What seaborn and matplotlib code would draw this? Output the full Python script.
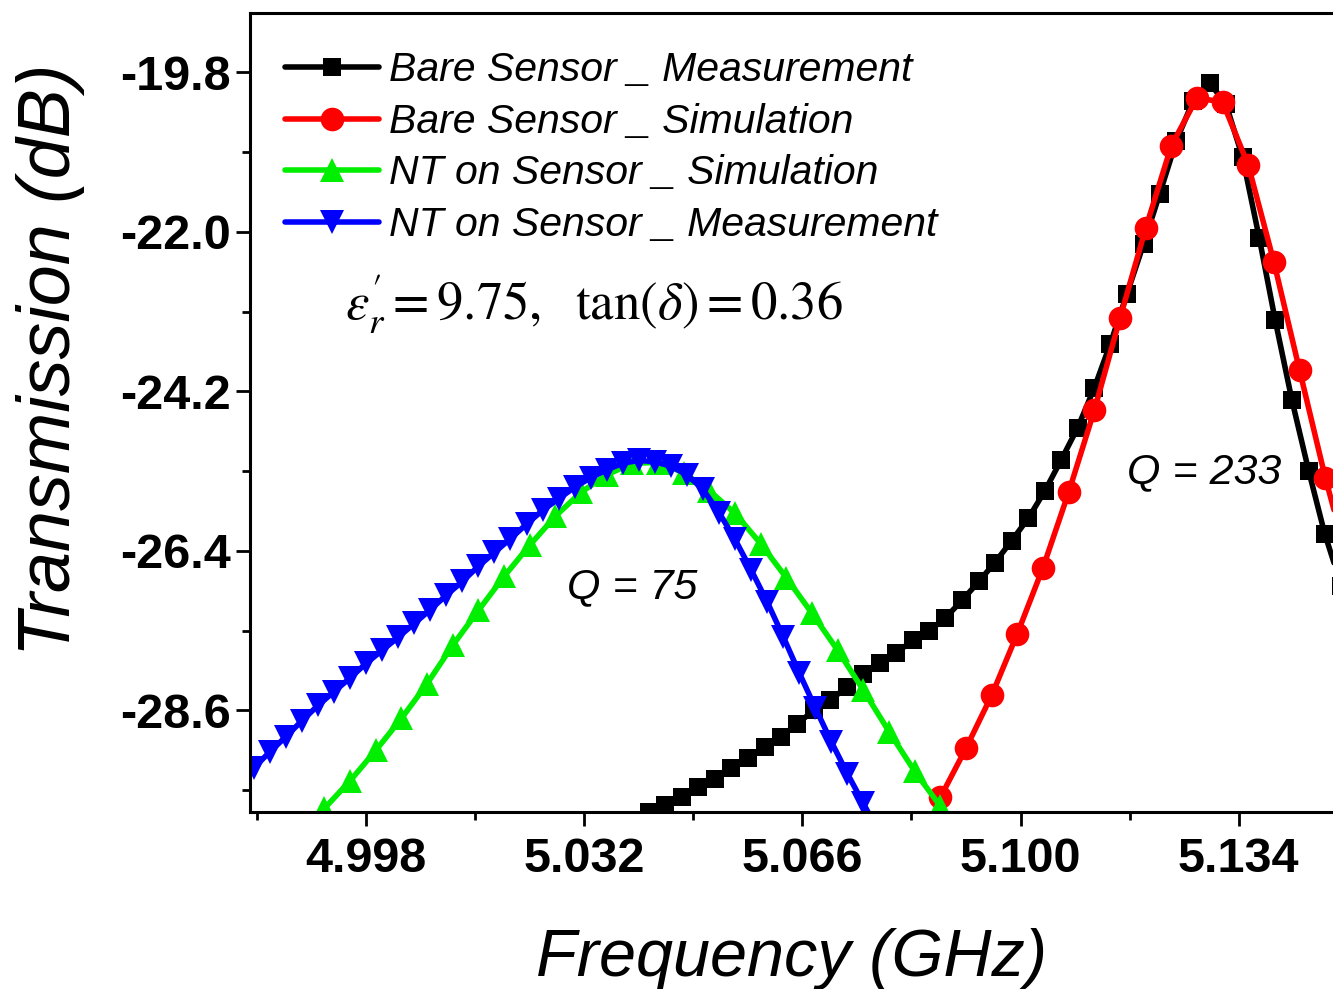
import matplotlib
matplotlib.use("Agg")
import matplotlib.pyplot as plt
import seaborn as sns

# ---------------- data ----------------
freq_bare_meas = [5.0395, 5.0421, 5.0446, 5.0472, 5.0498, 5.0524, 5.0549, 5.0575,
                  5.0601, 5.0626, 5.0652, 5.0678, 5.0703, 5.0729, 5.0755, 5.0781,
                  5.0806, 5.0832, 5.0858, 5.0883, 5.0909, 5.0935, 5.0960, 5.0986,
                  5.1012, 5.1038, 5.1063, 5.1089, 5.1115, 5.1140, 5.1166, 5.1192,
                  5.1217, 5.1243, 5.1269, 5.1295, 5.1320, 5.1346, 5.1372, 5.1397,
                  5.1423, 5.1449, 5.1474, 5.1500]
tx_bare_meas = [-30.26, -30.00, -29.91, -29.80, -29.66, -29.54, -29.39, -29.25,
                -29.11, -28.97, -28.78, -28.60, -28.46, -28.28, -28.09, -27.95,
                -27.81, -27.63, -27.50, -27.32, -27.08, -26.82, -26.56, -26.26,
                -25.95, -25.57, -25.15, -24.70, -24.15, -23.54, -22.85, -22.16,
                -21.47, -20.74, -20.19, -19.95, -20.23, -20.97, -22.08, -23.22,
                -24.32, -25.29, -26.16, -26.88]

freq_bare_sim = [5.0875, 5.0915, 5.0955, 5.0995, 5.1035, 5.1075, 5.1115, 5.1155,
                 5.1195, 5.1235, 5.1275, 5.1315, 5.1355, 5.1395, 5.1435, 5.1475,
                 5.1515]
tx_bare_sim = [-29.80, -29.12, -28.39, -27.54, -26.63, -25.59, -24.46, -23.19,
               -21.95, -20.81, -20.15, -20.21, -21.08, -22.42, -23.91, -25.39,
               -26.70]

freq_nt_sim = [4.9875, 4.9915, 4.9955, 4.9995, 5.0035, 5.0075, 5.0115, 5.0155,
               5.0195, 5.0235, 5.0275, 5.0315, 5.0355, 5.0395, 5.0435, 5.0475,
               5.0515, 5.0555, 5.0595, 5.0635, 5.0675, 5.0715, 5.0755, 5.0795,
               5.0835, 5.0875]
tx_nt_sim = [-30.40, -29.95, -29.57, -29.15, -28.71, -28.23, -27.70, -27.22,
             -26.75, -26.32, -25.92, -25.59, -25.35, -25.19, -25.18, -25.32,
             -25.57, -25.88, -26.30, -26.77, -27.26, -27.77, -28.32, -28.89,
             -29.44, -29.92]

freq_nt_meas = [4.9780, 4.9805, 4.9830, 4.9855, 4.9880, 4.9905, 4.9930, 4.9955,
                4.9980, 5.0005, 5.0030, 5.0055, 5.0080, 5.0105, 5.0130, 5.0155,
                5.0180, 5.0205, 5.0230, 5.0255, 5.0280, 5.0305, 5.0330, 5.0355,
                5.0380, 5.0405, 5.0430, 5.0455, 5.0480, 5.0505, 5.0530, 5.0555,
                5.0580, 5.0605, 5.0630, 5.0655, 5.0680, 5.0705, 5.0730, 5.0755,
                5.0780]
tx_nt_meas = [-29.61, -29.39, -29.17, -28.96, -28.74, -28.53, -28.34, -28.15,
              -27.95, -27.77, -27.59, -27.40, -27.21, -27.01, -26.82, -26.61,
              -26.42, -26.23, -26.03, -25.84, -25.68, -25.52, -25.39, -25.28,
              -25.19, -25.15, -25.17, -25.23, -25.35, -25.55, -25.87, -26.24,
              -26.66, -27.10, -27.58, -28.08, -28.56, -29.03, -29.47, -29.88,
              -30.30]

series_labels = ["Bare Sensor _ Measurement", "Bare Sensor _ Simulation",
                 "NT on Sensor _ Simulation", "NT on Sensor _ Measurement"]

x_ticks = [4.998, 5.032, 5.066, 5.100, 5.134]
x_tick_labels = ["4.998", "5.032", "5.066", "5.100", "5.134"]
x_minor = [4.981, 5.015, 5.049, 5.083, 5.117]
y_ticks = [-28.6, -26.4, -24.2, -22.0, -19.8]
y_tick_labels = ["-28.6", "-26.4", "-24.2", "-22.0", "-19.8"]
y_minor = [-29.7, -27.5, -25.3, -23.1, -20.9]

# ---------------- style ----------------
sns.set_style("ticks")
plt.rcParams["font.family"] = ["Liberation Sans", "DejaVu Sans"]
plt.rcParams["mathtext.fontset"] = "stix"
plt.rcParams["text.color"] = "black"
plt.rcParams["axes.labelcolor"] = "black"
plt.rcParams["xtick.color"] = "black"
plt.rcParams["ytick.color"] = "black"
plt.rcParams["legend.labelcolor"] = "black"

fig = plt.figure(figsize=(13.33, 9.89), dpi=100)
ax = fig.add_axes([0.18755, 0.17897, 0.81245, 0.80789])

styles = [
    (freq_bare_meas, tx_bare_meas, "#000000", "s", 13.5),
    (freq_bare_sim, tx_bare_sim, "#FF0000", "o", 17),
    (freq_nt_sim, tx_nt_sim, "#00EE00", "^", 17),
    (freq_nt_meas, tx_nt_meas, "#0000FF", "v", 17),
]
for (f, t, col, mk, ms), lab in zip(styles, series_labels):
    sns.lineplot(x=f, y=t, ax=ax, color=col, marker=mk, markersize=ms,
                 markeredgewidth=0, linewidth=4, label=lab, sort=False)

ax.set_xlim(4.9799, 5.1487)
ax.set_ylim(-30.0, -18.98)

ax.set_xticks(x_ticks, labels=x_tick_labels, fontsize=35, fontweight="bold",
              color="black")
ax.set_yticks(y_ticks, labels=y_tick_labels, fontsize=35, fontweight="bold",
              color="black")
ax.set_xticks(x_minor, minor=True)
ax.set_yticks(y_minor, minor=True)
ax.tick_params(axis="both", which="major", direction="out", length=10, width=2,
               color="black")
ax.tick_params(axis="both", which="minor", direction="out", length=6, width=2,
               color="black")
ax.tick_params(axis="x", which="major", pad=8)
ax.tick_params(axis="y", which="major", pad=4)

for side in ["left", "top", "bottom"]:
    ax.spines[side].set_linewidth(2.2)
    ax.spines[side].set_color("black")
ax.spines["right"].set_visible(False)

ax.set_xlabel("Frequency (GHz)", fontsize=48, style="italic", labelpad=33,
              color="black")
ax.set_ylabel("Transmission (dB)", fontsize=53, style="italic", color="black")
ax.yaxis.set_label_coords(-0.152, 0.566)

leg = ax.legend(loc="upper left", bbox_to_anchor=(0.032, 0.952), frameon=False,
                fontsize=29.5, handlelength=2.3, handletextpad=0.25,
                labelspacing=0.33, borderpad=0, borderaxespad=0)
for txt in leg.get_texts():
    txt.set_fontstyle("italic")
    txt.set_color("black")

ax.text(0.088, 0.635, r"$\varepsilon_{r}^{\prime}=9.75,\ \ \tan(\delta)=0.36$",
        transform=ax.transAxes, fontsize=38, va="center", ha="left",
        color="black")
ax.text(5.0395, -26.90, "Q = 75", fontsize=31, style="italic",
        ha="center", va="center", color="black")
ax.text(5.1286, -25.32, "Q = 233", fontsize=31, style="italic",
        ha="center", va="center", color="black")

fig.savefig("out.png", dpi=100)
